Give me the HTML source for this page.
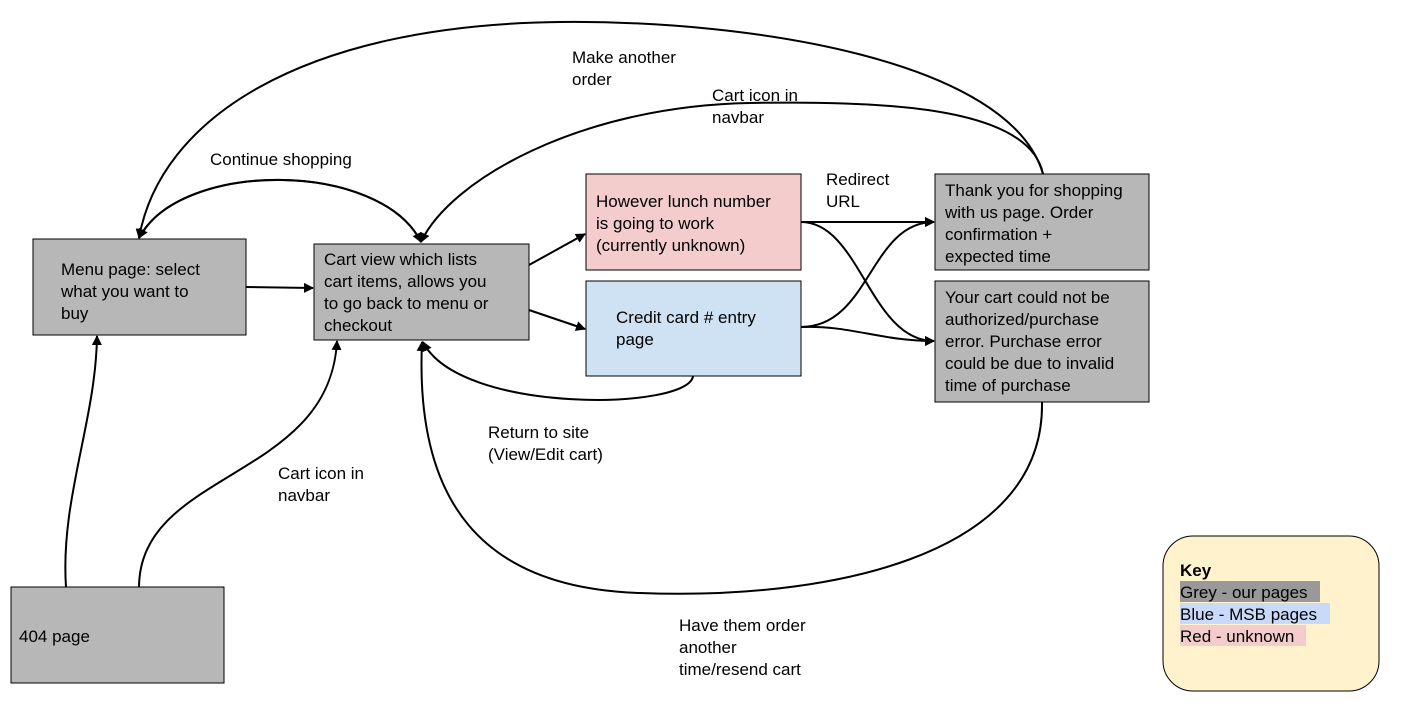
<!DOCTYPE html>
<html><head><style>
body{margin:0;background:#fff;}
svg text{font-family:"Liberation Sans",sans-serif;font-size:17px;fill:#000;}
</style></head><body>
<svg width="1413" height="714" viewBox="0 0 1413 714" xmlns="http://www.w3.org/2000/svg">
<defs><marker id="a" viewBox="0 0 10 10" refX="9" refY="5" markerWidth="10" markerHeight="10" markerUnits="userSpaceOnUse" orient="auto"><path d="M0,0 L10,5 L0,10 z" fill="#000"/></marker></defs>
<g fill="none" stroke="#000" stroke-width="2">
<path d="M246,287 L313,288" marker-end="url(#a)"/>
<path d="M529,265 L585,234" marker-end="url(#a)"/>
<path d="M529,310 L585,329" marker-end="url(#a)"/>
<path d="M801,222 L934,222" marker-end="url(#a)"/>
<path d="M801,222 C860,222 870,341 934,341" marker-end="url(#a)"/>
<path d="M801,327 C870,327 870,222 934,222" marker-end="url(#a)"/>
<path d="M801,327 C850,325 880,341 934,341" marker-end="url(#a)"/>
<path d="M693,376 C690,410 460,415 423,342" marker-end="url(#a)"/>
<path d="M140,237 C180,160 380,160 421,242" marker-end="url(#a)"/>
<path d="M421,242 C380,160 180,160 139,238" marker-end="url(#a)"/>
<path d="M1043,174 C1010,60 750,20 560,22 C300,25 160,120 139,238" marker-end="url(#a)"/>
<path d="M1043,174 C1030,110 900,100 750,103 C580,106 450,180 421,242" marker-end="url(#a)"/>
<path d="M1042,402 C1045,560 820,600 640,593 C480,588 415,500 422,342" marker-end="url(#a)"/>
<path d="M66,587 C60,500 96,420 97,336" marker-end="url(#a)"/>
<path d="M139,587 C140,470 330,480 337,341" marker-end="url(#a)"/>
</g>
<g stroke="#000" stroke-width="1">
<rect x="33" y="239" width="213" height="96" fill="#b7b7b7"/>
<rect x="314" y="244" width="215" height="96" fill="#b7b7b7"/>
<rect x="586" y="174" width="215" height="96" fill="#f4cccc"/>
<rect x="586" y="281" width="215" height="95" fill="#cfe2f3"/>
<rect x="935" y="174" width="214" height="96" fill="#b7b7b7"/>
<rect x="935" y="281" width="214" height="121" fill="#b7b7b7"/>
<rect x="11" y="587" width="213" height="96" fill="#b7b7b7"/>
<rect x="1163" y="536" width="216" height="155" rx="30" fill="#fff2cc"/>
</g>
<rect x="1180" y="581" width="140" height="21" fill="#999"/>
<rect x="1180" y="603" width="150" height="21" fill="#c9daf8"/>
<rect x="1180" y="625" width="126" height="21" fill="#f4cccc"/>
<text x="61" y="275">Menu page: select</text><text x="61" y="297">what you want to</text><text x="61" y="319">buy</text>
<text x="324" y="265">Cart view which lists</text><text x="324" y="287">cart items, allows you</text><text x="324" y="309">to go back to menu or</text><text x="324" y="331">checkout</text>
<text x="596" y="207">However lunch number</text><text x="596" y="229">is going to work</text><text x="596" y="251">(currently unknown)</text>
<text x="616" y="323">Credit card # entry</text><text x="616" y="345">page</text>
<text x="945" y="196">Thank you for shopping</text><text x="945" y="218">with us page. Order</text><text x="945" y="240">confirmation +</text><text x="945" y="262">expected time</text>
<text x="945" y="303">Your cart could not be</text><text x="945" y="325">authorized/purchase</text><text x="945" y="347">error. Purchase error</text><text x="945" y="369">could be due to invalid</text><text x="945" y="391">time of purchase</text>
<text x="19" y="642">404 page</text>
<text x="1180" y="576" font-weight="bold">Key</text>
<text x="1180" y="598">Grey - our pages</text><text x="1180" y="620">Blue - MSB pages</text><text x="1180" y="642">Red - unknown</text>
<text x="572" y="63">Make another</text><text x="572" y="85">order</text>
<text x="712" y="101">Cart icon in</text><text x="712" y="123">navbar</text>
<text x="210" y="165">Continue shopping</text>
<text x="826" y="185">Redirect</text><text x="826" y="207">URL</text>
<text x="488" y="438">Return to site</text><text x="488" y="460">(View/Edit cart)</text>
<text x="278" y="479">Cart icon in</text><text x="278" y="501">navbar</text>
<text x="679" y="631">Have them order</text><text x="679" y="653">another</text><text x="679" y="675">time/resend cart</text>
</svg>
</body></html>
